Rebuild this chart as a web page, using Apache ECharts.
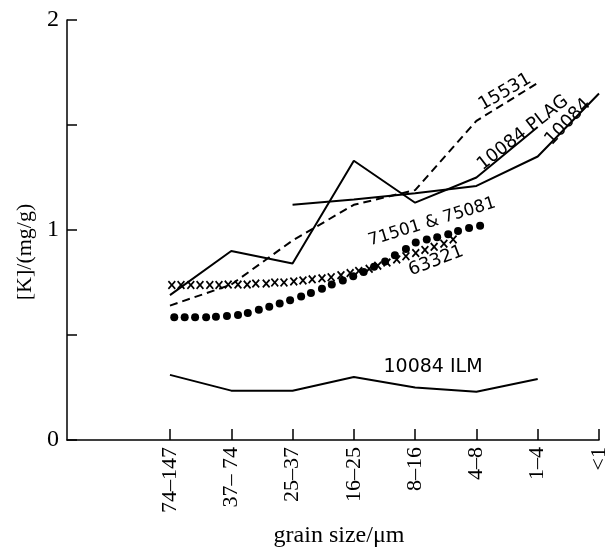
<!DOCTYPE html>
<html>
<head>
<meta charset="utf-8">
<script src="https://cdn.jsdelivr.net/npm/echarts@6/dist/echarts.min.js"></script>
<style>
html,body{margin:0;padding:0;background:#fff;}
#chart{width:615px;height:548px;}
</style>
</head>
<body>
<div id="chart"></div>
<script>
// grain size categories (position index 0..7)
const categories = ['74–147', '37– 74', '25–37', '16–25', '8–16', '4–8', '1–4', '<1'];
const yTicks = [0, 0.5, 1, 1.5, 2];

// 10084 PLAG (positions 0..6)
const plagY = [0.69, 0.90, 0.84, 1.33, 1.13, 1.25, 1.49];
// 10084 bulk (positions 2..7)
const bulkX = [2, 3, 4, 5, 6, 7];
const bulkY = [1.12, 1.145, 1.175, 1.21, 1.35, 1.65];
// 15531 dashed (positions 0..6)
const s15531Y = [0.64, 0.74, 0.95, 1.12, 1.19, 1.52, 1.70];
// 10084 ILM (positions 0..6)
const ilmY = [0.31, 0.235, 0.235, 0.30, 0.25, 0.23, 0.29];

// 63321 crosses (fractional position, value)
const crossX = [0.03, 0.18, 0.34, 0.49, 0.65, 0.80, 0.95, 1.11, 1.26, 1.40, 1.57, 1.71, 1.86, 2.02, 2.17, 2.32,
  2.48, 2.63, 2.79, 2.94, 3.08, 3.25, 3.39, 3.54, 3.70, 3.85, 4.01, 4.16, 4.31, 4.47, 4.62];
const crossY = [0.738, 0.738, 0.738, 0.738, 0.738, 0.738, 0.74, 0.74, 0.74, 0.745, 0.745, 0.75, 0.75, 0.755, 0.76, 0.765,
  0.77, 0.775, 0.785, 0.795, 0.805, 0.815, 0.83, 0.845, 0.86, 0.875, 0.89, 0.905, 0.92, 0.935, 0.955];

// 71501 & 75081 dots (fractional position, value)
const dotX = [0.07, 0.24, 0.41, 0.59, 0.75, 0.93, 1.11, 1.27, 1.45, 1.62, 1.79, 1.96, 2.14, 2.30, 2.48, 2.64,
  2.82, 2.99, 3.16, 3.33, 3.51, 3.67, 3.85, 4.01, 4.19, 4.36, 4.54, 4.70, 4.88, 5.06];
const dotY = [0.585, 0.585, 0.585, 0.585, 0.587, 0.59, 0.595, 0.605, 0.62, 0.635, 0.65, 0.665, 0.683, 0.70, 0.72, 0.74,
  0.76, 0.78, 0.80, 0.825, 0.85, 0.88, 0.91, 0.94, 0.955, 0.965, 0.98, 0.995, 1.01, 1.02];

const idx = (arr) => arr.map((v, i) => [i, v]);
const pairs = (xs, ys) => xs.map((x, i) => [x, ys[i]]);

const serif = '"Liberation Serif", "DejaVu Serif", serif';
const sans = '"DejaVu Sans", sans-serif';
const crossPath = 'path://M0,1.5L1.5,0L5,3.5L8.5,0L10,1.5L6.5,5L10,8.5L8.5,10L5,6.5L1.5,10L0,8.5L3.5,5Z';

const chart = echarts.init(document.getElementById('chart'), null, {renderer: 'canvas'});

const lineStyleSolid = {color: '#000', width: 2};

chart.setOption({
  animation: false,
  backgroundColor: '#fff',
  grid: {left: 67, right: 16, top: 20, bottom: 108, outerBoundsMode: 'none', containLabel: false},
  xAxis: {
    type: 'value',
    min: -1.68,
    max: 7,
    name: 'grain size/μm',
    nameLocation: 'middle',
    nameGap: 84,
    nameTextStyle: {fontFamily: serif, fontSize: 24, color: '#000', padding: [0, 0, 0, 12]},
    splitLine: {show: false},
    axisLine: {onZero: false, lineStyle: {color: '#000', width: 1.5}},
    axisTick: {
      inside: true, length: 11,
      lineStyle: {color: '#000', width: 1.5},
      customValues: [0, 1, 2, 3, 4, 5, 6, 7]
    },
    axisLabel: {
      rotate: 90,
      margin: 7,
      fontFamily: serif,
      fontSize: 22,
      color: '#000',
      customValues: [0, 1, 2, 3, 4, 5, 6, 7],
      formatter: (v) => categories[Math.round(v)] || ''
    }
  },
  yAxis: {
    type: 'value',
    min: 0,
    max: 2,
    interval: 0.5,
    name: '[K]/(mg/g)',
    nameLocation: 'middle',
    nameGap: 30,
    nameRotate: 90,
    nameTextStyle: {fontFamily: serif, fontSize: 22, color: '#000', padding: [0, 44, 0, 0]},
    splitLine: {show: false},
    axisLine: {show: true, onZero: false, lineStyle: {color: '#000', width: 1.5}},
    axisTick: {show: true, inside: true, length: 10, lineStyle: {color: '#000', width: 1.5}},
    axisLabel: {
      margin: 8,
      fontFamily: serif,
      fontSize: 24,
      color: '#000',
      formatter: (v) => (Math.abs(v - Math.round(v)) < 1e-9 ? String(Math.round(v)) : '')
    }
  },
  series: [
    {
      name: '10084 PLAG', type: 'line', data: idx(plagY),
      showSymbol: false, symbol: 'none', lineStyle: lineStyleSolid
    },
    {
      name: '10084', type: 'line', data: pairs(bulkX, bulkY),
      showSymbol: false, symbol: 'none', lineStyle: lineStyleSolid
    },
    {
      name: '15531', type: 'line', data: idx(s15531Y),
      showSymbol: false, symbol: 'none',
      lineStyle: {color: '#000', width: 2, type: [8, 5]}
    },
    {
      name: '10084 ILM', type: 'line', data: idx(ilmY),
      showSymbol: false, symbol: 'none', lineStyle: lineStyleSolid
    },
    {
      name: '63321', type: 'scatter', data: pairs(crossX, crossY),
      symbol: crossPath, symbolSize: [8, 9],
      itemStyle: {color: '#000', opacity: 1}
    },
    {
      name: '71501 & 75081', type: 'scatter', data: pairs(dotX, dotY),
      symbol: 'circle', symbolSize: 8,
      itemStyle: {color: '#000', opacity: 1}
    }
  ],
  graphic: [
    {type: 'text', x: 505, y: 92, rotation: 30 * Math.PI / 180,
      style: {text: '15531', font: '18px ' + sans, fill: '#000', textAlign: 'center', textVerticalAlign: 'middle'}},
    {type: 'text', x: 523, y: 133, rotation: 38 * Math.PI / 180,
      style: {text: '10084 PLAG', font: '18px ' + sans, fill: '#000', textAlign: 'center', textVerticalAlign: 'middle'}},
    {type: 'text', x: 568, y: 122, rotation: 46 * Math.PI / 180,
      style: {text: '10084', font: '18px ' + sans, fill: '#000', textAlign: 'center', textVerticalAlign: 'middle'}},
    {type: 'text', x: 432, y: 222, rotation: 17 * Math.PI / 180,
      style: {text: '71501 & 75081', font: '17px ' + sans, fill: '#000', textAlign: 'center', textVerticalAlign: 'middle'}},
    {type: 'text', x: 436, y: 261, rotation: 21 * Math.PI / 180,
      style: {text: '63321', font: '18px ' + sans, fill: '#000', textAlign: 'center', textVerticalAlign: 'middle'}},
    {type: 'text', x: 433, y: 367, rotation: 0,
      style: {text: '10084 ILM', font: '19px ' + sans, fill: '#000', textAlign: 'center', textVerticalAlign: 'middle'}}
  ]
});
</script>
</body>
</html>
